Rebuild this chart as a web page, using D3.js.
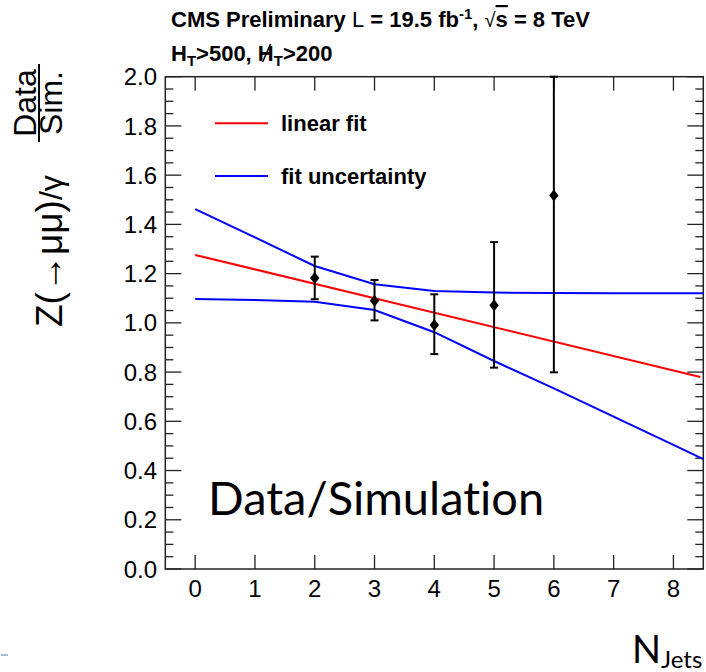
<!DOCTYPE html>
<html>
<head>
<meta charset="utf-8">
<script src="https://cdn.jsdelivr.net/npm/d3@7"></script>
<style>
  html, body { margin: 0; padding: 0; background: #fff; }
  svg { display: block; }
  .root { font-family: "Liberation Sans", Arial, Helvetica, sans-serif; }
  .ppt { font-family: Lato, "Open Sans", sans-serif; font-variant-ligatures: none; }
</style>
</head>
<body>
<script>
// ---------- data ----------
const nJets    = [2, 3, 4, 5, 6];
const ratio    = [1.182, 1.090, 0.991, 1.071, 1.517];
const errUp    = [0.087, 0.084, 0.125, 0.257, 0.483];
const errDown  = [0.086, 0.080, 0.118, 0.253, 0.718];

const fitX     = [0, 8.45];
const fitY     = [1.276, 0.780];

const bandX    = [0, 1, 2, 3, 4, 5, 6, 7, 8, 8.5];
const bandUp   = [1.462, 1.347, 1.231, 1.157, 1.129, 1.123, 1.121, 1.120, 1.120, 1.120];
const bandLow  = [1.097, 1.093, 1.086, 1.052, 0.962, 0.845, 0.734, 0.619, 0.504, 0.446];

const xTicks   = [0, 1, 2, 3, 4, 5, 6, 7, 8];
const yTicks   = [0, 0.2, 0.4, 0.6, 0.8, 1.0, 1.2, 1.4, 1.6, 1.8, 2.0];
const yMinor   = d3.range(0, 2.0001, 0.05);
const legendLabels = ["linear fit", "fit uncertainty"];
const legendColors = ["#ff0000", "#0000ff"];

// ---------- layout ----------
const W = 706, H = 672;
const x = d3.scaleLinear().domain([-0.5, 8.5]).range([165.3, 703.3]);
const y = d3.scaleLinear().domain([0, 2]).range([569, 76.7]);

const svg = d3.select("body").append("svg")
  .attr("width", W).attr("height", H);

// frame
svg.append("rect")
  .attr("x", x(-0.5)).attr("y", y(2))
  .attr("width", x(8.5) - x(-0.5)).attr("height", y(0) - y(2))
  .attr("fill", "none").attr("stroke", "#222").attr("stroke-width", 1.5);

// x ticks (bottom + top, inward)
const tk = svg.append("g").attr("stroke", "#222").attr("stroke-width", 1.3);
xTicks.forEach(t => {
  tk.append("line").attr("x1", x(t)).attr("x2", x(t)).attr("y1", y(0)).attr("y2", y(0) - 14);
  tk.append("line").attr("x1", x(t)).attr("x2", x(t)).attr("y1", y(2)).attr("y2", y(2) + 14);
});
// y ticks (left + right, inward)
yMinor.forEach(t => {
  const major = Math.abs(Math.round(t / 0.2) * 0.2 - t) < 1e-6;
  const len = major ? 16 : 8;
  tk.append("line").attr("x1", x(-0.5)).attr("x2", x(-0.5) + len).attr("y1", y(t)).attr("y2", y(t));
  tk.append("line").attr("x1", x(8.5)).attr("x2", x(8.5) - len).attr("y1", y(t)).attr("y2", y(t));
});

// tick labels
const lab = svg.append("g").attr("class", "root").attr("fill", "#000").attr("font-size", 24);
xTicks.forEach(t => {
  lab.append("text").attr("x", x(t)).attr("y", 597).attr("text-anchor", "middle").text(d3.format("d")(t));
});
yTicks.forEach(t => {
  lab.append("text").attr("x", 157).attr("y", y(t)).attr("dy", "0.36em")
    .attr("text-anchor", "end").text(d3.format(".1f")(t));
});

// fit uncertainty band edges
const line = d3.line().x(d => x(d[0])).y(d => y(d[1]));
svg.append("path").datum(bandX.map((v, i) => [v, bandUp[i]]))
  .attr("d", line).attr("fill", "none").attr("stroke", "#0000ff").attr("stroke-width", 2);
svg.append("path").datum(bandX.map((v, i) => [v, bandLow[i]]))
  .attr("d", line).attr("fill", "none").attr("stroke", "#0000ff").attr("stroke-width", 2);
// linear fit
svg.append("path").datum(fitX.map((v, i) => [v, fitY[i]]))
  .attr("d", line).attr("fill", "none").attr("stroke", "#ff0000").attr("stroke-width", 2);

// diamond marker (ROOT style 33)
const rootDiamond = {
  draw(ctx, size) {
    const h = Math.sqrt(size) * 0.95, w = h * 0.78;
    ctx.moveTo(0, -h); ctx.lineTo(w, 0); ctx.lineTo(0, h); ctx.lineTo(-w, 0); ctx.closePath();
  }
};

// data points with error bars
const pts = svg.append("g");
nJets.forEach((n, i) => {
  const top = Math.min(2, ratio[i] + errUp[i]);
  const bot = ratio[i] - errDown[i];
  pts.append("line").attr("x1", x(n)).attr("x2", x(n)).attr("y1", y(top)).attr("y2", y(bot))
    .attr("stroke", "#000").attr("stroke-width", 2);
  [top, bot].forEach(v => {
    pts.append("line").attr("x1", x(n) - 4).attr("x2", x(n) + 4).attr("y1", y(v)).attr("y2", y(v))
      .attr("stroke", "#000").attr("stroke-width", 2);
  });
  pts.append("path").attr("d", d3.symbol(rootDiamond, 40)())
    .attr("transform", `translate(${x(n)},${y(ratio[i])})`).attr("fill", "#000");
});

// legend
const lg = svg.append("g").attr("class", "root");
legendLabels.forEach((l, i) => {
  const ly = 123.3 + i * 52.7;
  lg.append("line").attr("x1", 215).attr("x2", 268).attr("y1", ly).attr("y2", ly)
    .attr("stroke", legendColors[i]).attr("stroke-width", 2);
  lg.append("text").attr("x", 281).attr("y", ly + 8).attr("font-size", 22).attr("font-weight", "bold")
    .attr("fill", "#000").text(l);
});

// title lines
const t1 = svg.append("text").attr("class", "root").attr("x", 171).attr("y", 27)
  .attr("font-size", 22).attr("font-weight", "bold").attr("fill", "#000");
t1.append("tspan").text("CMS Preliminary ");
t1.append("tspan").attr("font-weight", "normal").text("L");
t1.append("tspan").text(" = 19.5 fb");
t1.append("tspan").attr("font-size", 15).attr("dy", -8).text("-1");
t1.append("tspan").attr("dy", 8).text(", ");
t1.append("tspan").attr("font-weight", "normal").attr("font-size", 20).text("√");
t1.append("tspan").attr("text-decoration", "overline").text("s");
t1.append("tspan").text(" = 8 TeV");

const t2 = svg.append("text").attr("class", "root").attr("x", 171).attr("y", 61)
  .attr("font-size", 22).attr("font-weight", "bold").attr("fill", "#000");
t2.append("tspan").text("H");
t2.append("tspan").attr("font-size", 15).attr("dy", 5).text("T");
t2.append("tspan").attr("dy", -5).text(">500, H");
t2.append("tspan").attr("font-size", 15).attr("dy", 5).text("T");
t2.append("tspan").attr("dy", -5).text(">200");
// slash through the second H (missing transverse energy)
{
  const bb = t2.node().getExtentOfChar(8);
  svg.append("line")
    .attr("x1", bb.x + bb.width * 0.3).attr("y1", 61 + 1)
    .attr("x2", bb.x + bb.width * 0.8).attr("y2", 61 - 17)
    .attr("stroke", "#000").attr("stroke-width", 1.6);
}

// y-axis title
const yt = svg.append("g").attr("class", "root")
  .attr("transform", "translate(62,327) rotate(-90)");
const ytt = yt.append("text").attr("x", 0).attr("y", 0).attr("font-size", 37).attr("fill", "#000");
ytt.append("tspan").text("Z(→μμ)");
ytt.append("tspan").attr("font-size", 32).text("/γ");

const fr = svg.append("g").attr("class", "root")
  .attr("transform", "translate(39,103) rotate(-90)");
fr.append("text").attr("x", 0).attr("y", -3).attr("text-anchor", "middle")
  .attr("font-size", 32).attr("fill", "#000").text("Data");
fr.append("text").attr("x", 0).attr("y", 23).attr("text-anchor", "middle")
  .attr("font-size", 32).attr("fill", "#000").text("Sim.");
fr.append("line").attr("x1", -39).attr("x2", 39).attr("y1", 0).attr("y2", 0)
  .attr("stroke", "#000").attr("stroke-width", 2);

// x-axis title (slide text)
const xt = svg.append("text").attr("class", "ppt").attr("x", 632).attr("y", 663).attr("fill", "#000");
xt.append("tspan").attr("font-size", 38).text("N");
xt.append("tspan").attr("font-size", 24).attr("dy", 5).text("Jets");

// overlay label
svg.append("text").attr("class", "ppt").attr("x", 208).attr("y", 515)
  .attr("font-size", 47).attr("fill", "#000").text("Data/Simulation");

// small slide decoration at bottom-left
svg.append("rect").attr("x", 1).attr("y", 654).attr("width", 7).attr("height", 2).attr("fill", "#a5bdd3");
</script>
</body>
</html>
